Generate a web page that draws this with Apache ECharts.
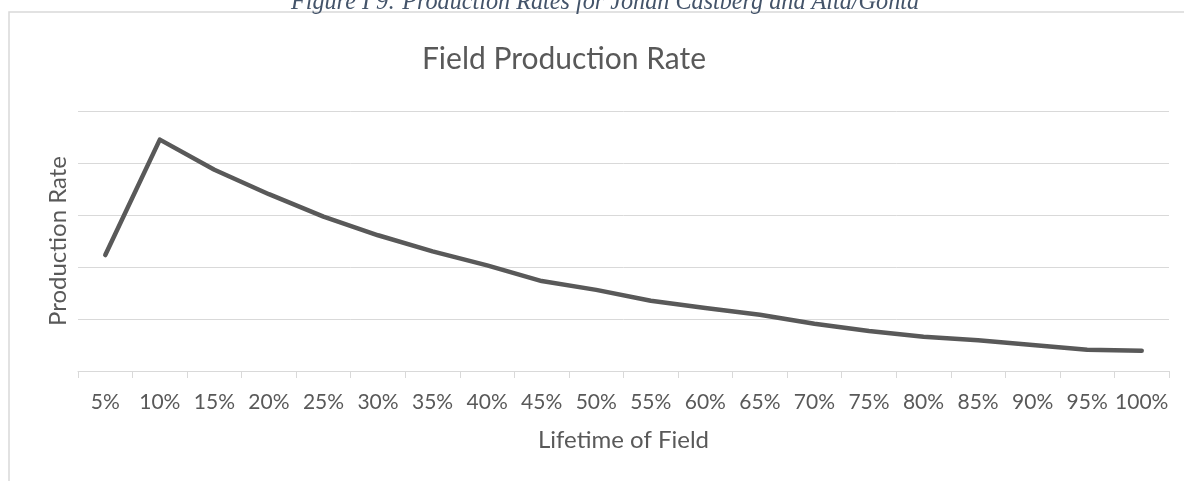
<!DOCTYPE html>
<html>
<head>
<meta charset="utf-8">
<script src="https://cdn.jsdelivr.net/npm/echarts@6/dist/echarts.min.js"></script>
<style>
  html, body { margin: 0; padding: 0; background: #fff; }
  #chart { width: 1184px; height: 481px; }
</style>
</head>
<body>
<div id="chart"></div>
<script>
// Share of field lifetime elapsed
const lifetime = ['5%', '10%', '15%', '20%', '25%', '30%', '35%', '40%', '45%', '50%',
                  '55%', '60%', '65%', '70%', '75%', '80%', '85%', '90%', '95%', '100%'];
// Relative production rate at each stage (unitless)
const productionRate = [2.23, 4.45, 3.87, 3.40, 2.97, 2.61, 2.30, 2.03, 1.73, 1.56,
                        1.35, 1.21, 1.08, 0.91, 0.77, 0.66, 0.59, 0.50, 0.41, 0.39];
const captionText = 'Figure I 9: Production Rates for Johan Castberg and Alta/Gohta';
const titleText = 'Field Production Rate';
const xName = 'Lifetime of Field';
const yName = 'Production Rate';

const font = 'Lato, "Open Sans", sans-serif';
const textColor = '#595959';
const lineGrey = '#d9d9d9';

const chart = echarts.init(document.getElementById('chart'));
chart.setOption({
  backgroundColor: '#ffffff',
  animation: false,
  title: [{
    text: captionText,
    left: 600,
    textAlign: 'center',
    top: -14,
    textStyle: { fontFamily: '"Liberation Serif", serif', fontStyle: 'italic', fontWeight: 'normal', fontSize: 24.2, color: '#44546a' }
  }, {
    text: titleText,
    left: 559,
    textAlign: 'center',
    top: 39,
    textStyle: { fontFamily: font, fontWeight: 'normal', fontSize: 30, color: textColor }
  }],
  graphic: [{
    type: 'rect',
    shape: { x: 9, y: 12, width: 1300, height: 600 },
    style: { fill: null, stroke: lineGrey, lineWidth: 1.5 },
    silent: true,
    z: -1
  }],
  grid: { left: 78, right: 15, top: 111, bottom: 110 },
  xAxis: {
    type: 'category',
    data: lifetime,
    boundaryGap: true,
    name: xName,
    nameLocation: 'middle',
    nameGap: 57,
    nameTextStyle: { fontFamily: font, fontSize: 24, color: textColor },
    axisLine: { lineStyle: { color: lineGrey, width: 1 } },
    axisTick: { show: true, length: 7, lineStyle: { color: lineGrey } },
    axisLabel: { fontFamily: font, fontSize: 21, color: textColor, margin: 21, interval: 0 }
  },
  yAxis: {
    type: 'value',
    min: 0,
    max: 5,
    interval: 1,
    name: yName,
    nameLocation: 'middle',
    nameGap: 8,
    nameTextStyle: { fontFamily: font, fontSize: 24, color: textColor },
    axisLine: { show: false },
    axisTick: { show: false },
    axisLabel: { show: false },
    splitLine: { lineStyle: { color: lineGrey, width: 1 } }
  },
  series: [{
    type: 'line',
    data: productionRate,
    symbol: 'none',
    lineStyle: { color: '#595959', width: 4.5, cap: 'round', join: 'round' }
  }]
});
</script>
</body>
</html>
